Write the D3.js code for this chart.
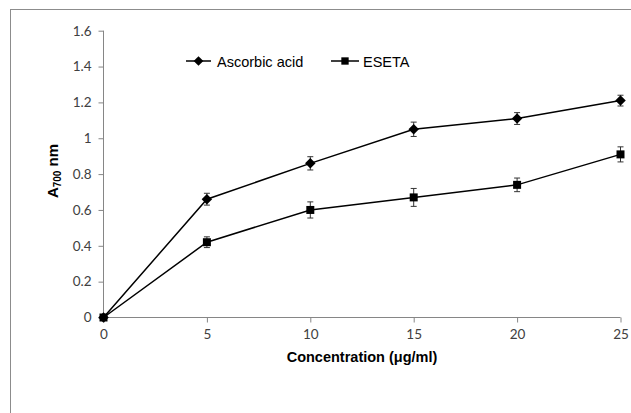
<!DOCTYPE html>
<html>
<head>
<meta charset="utf-8">
<script src="https://cdn.jsdelivr.net/npm/d3@7"></script>
<style>
  body { margin: 0; background: #fff; }
  .tick text { font-family: Lato, "Open Sans", sans-serif; font-size: 13.5px; fill: #404040; }
  .axis path, .axis line { stroke: #868686; }
</style>
</head>
<body>
<div id="chart"></div>
<script>
let concentration = [0, 5, 10, 15, 20, 25]
let ascorbic = [0, 0.66, 0.86, 1.05, 1.11, 1.21]
let ascorbicErr = [0, 0.033, 0.037, 0.04, 0.033, 0.03]
let eseta = [0, 0.42, 0.60, 0.67, 0.74, 0.91]
let esetaErr = [0, 0.03, 0.045, 0.05, 0.038, 0.042]
let xTicks = [0, 5, 10, 15, 20, 25]
let yTicks = [0, 0.2, 0.4, 0.6, 0.8, 1, 1.2, 1.4, 1.6]

let width = 631
let height = 413
let margin = { top: 31, right: 10, bottom: 96, left: 103.5 }

let svg = d3.select('#chart').append('svg')
    .attr('width', width)
    .attr('height', height)

// outer chart frame (cut at right and bottom like the original)
svg.append('rect')
    .attr('x', 10.5).attr('y', 9.5)
    .attr('width', 640).attr('height', 420)
    .attr('fill', 'none')
    .attr('stroke', '#8c8c8c')
    .attr('stroke-width', 1)

let xScale = d3.scaleLinear()
    .domain([0, 25])
    .range([margin.left, 620.5])

let yScale = d3.scaleLinear()
    .domain([0, 1.6])
    .range([317.5, 30.7])

let yAxis = d3.axisLeft(yScale)
    .tickValues(yTicks)
    .tickSize(5)
    .tickPadding(7)
    .tickFormat(d => d3.format('~g')(d))

let xAxis = d3.axisBottom(xScale)
    .tickValues(xTicks)
    .tickSize(5)
    .tickPadding(7)

svg.append('g')
    .attr('class', 'axis')
    .attr('transform', `translate(${margin.left},0)`)
    .call(yAxis)
    .call(g => g.select('.domain').attr('d', `M0,${yScale(1.6)}V${yScale(0)}`))

svg.append('g')
    .attr('class', 'axis')
    .attr('transform', `translate(0,${yScale(0)})`)
    .call(xAxis)
    .call(g => g.select('.domain').attr('d', `M${xScale(0)},0H${xScale(25)}`))

// axis titles
svg.append('text')
    .attr('x', 362)
    .attr('y', 362)
    .attr('text-anchor', 'middle')
    .style('font-family', '"Liberation Sans", Arial, sans-serif')
    .style('font-size', '14.5px')
    .style('font-weight', 'bold')
    .text('Concentration (μg/ml)')

let yTitle = svg.append('text')
    .attr('transform', 'translate(58,171) rotate(-90)')
    .attr('text-anchor', 'middle')
    .style('font-family', '"Liberation Sans", Arial, sans-serif')
    .style('font-size', '15px')
    .style('font-weight', 'bold')
yTitle.append('tspan').text('A')
yTitle.append('tspan').attr('dy', 3).style('font-size', '10px').text('700')
yTitle.append('tspan').attr('dy', -3).text(' nm')

let series = [
    { name: 'Ascorbic acid', values: ascorbic, errs: ascorbicErr, symbol: d3.symbolDiamond2, size: 70 },
    { name: 'ESETA', values: eseta, errs: esetaErr, symbol: d3.symbolSquare, size: 64 }
]

let line = d3.line()
    .x((d, i) => xScale(concentration[i]))
    .y(d => yScale(d))

series.forEach(s => {
    svg.append('path')
        .datum(s.values)
        .attr('d', line)
        .attr('fill', 'none')
        .attr('stroke', '#000')
        .attr('stroke-width', 1.5)

    // error bars
    let eb = svg.append('g')
    s.values.forEach((v, i) => {
        if (!s.errs[i]) return
        let x = xScale(concentration[i])
        let y0 = yScale(v - s.errs[i])
        let y1 = yScale(v + s.errs[i])
        eb.append('path')
            .attr('d', `M${x - 3},${y0}H${x + 3}M${x},${y0}V${y1}M${x - 3},${y1}H${x + 3}`)
            .attr('fill', 'none')
            .attr('stroke', '#333')
            .attr('stroke-width', 1)
    })

    svg.append('g').selectAll('path')
        .data(s.values)
        .join('path')
        .attr('transform', (d, i) => `translate(${xScale(concentration[i])},${yScale(d)})`)
        .attr('d', d3.symbol().type(s.symbol).size(s.size))
        .attr('fill', '#000')
})

// legend
let legendPos = [{ x1: 186, text: 217 }, { x1: 331, text: 363 }]
series.forEach((s, i) => {
    let g = svg.append('g').attr('transform', `translate(0,61)`)
    let lp = legendPos[i]
    let len = i === 0 ? 25 : 28
    g.append('line')
        .attr('x1', lp.x1).attr('x2', lp.x1 + len)
        .attr('stroke', '#000').attr('stroke-width', 1.5)
    g.append('path')
        .attr('transform', `translate(${lp.x1 + len / 2},0)`)
        .attr('d', d3.symbol().type(s.symbol).size(s.size - 10))
        .attr('fill', '#000')
    g.append('text')
        .attr('x', lp.text)
        .attr('y', 5.5)
        .style('font-family', '"Liberation Sans", Arial, sans-serif')
        .style('font-size', '14.5px')
        .text(s.name)
})
</script>
</body>
</html>
